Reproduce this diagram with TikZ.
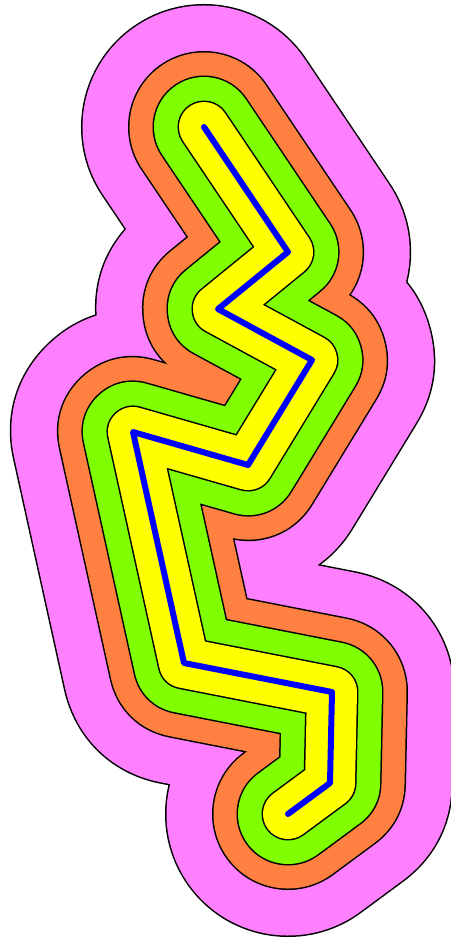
\documentclass[tikz,border=0pt]{standalone}
\definecolor{bufmag}{HTML}{FF80FF}
\definecolor{buforange}{HTML}{FF8040}
\definecolor{bufgreen}{HTML}{80FF00}
\definecolor{bufyellow}{HTML}{FFFF00}
\definecolor{bufblue}{HTML}{0000FF}
\tikzset{
  buf/.style={line join=round, line cap=round},
}
\begin{document}
\begin{tikzpicture}[x=1pt,y=-1pt]
\fill[white] (0,0) rectangle (450,940);
\useasboundingbox (0,0) rectangle (450,940);
\coordinate (p1) at (204,127);
\coordinate (p2) at (288,252);
\coordinate (p3) at (218,309);
\coordinate (p4) at (312,360);
\coordinate (p5) at (248,465);
\coordinate (p6) at (133,432);
\coordinate (p7) at (184,663);
\coordinate (p8) at (332,692);
\coordinate (p9) at (330,783);
\coordinate (p10) at (288,814);
\def\route{(p1) -- (p2) -- (p3) -- (p4) -- (p5) -- (p6) -- (p7) -- (p8) -- (p9) -- (p10)}
\draw[buf, black, line width=246] \route;
\draw[buf, bufmag, line width=243] \route;
\draw[buf, black, line width=152] \route;
\draw[buf, buforange, line width=149] \route;
\draw[buf, black, line width=103] \route;
\draw[buf, bufgreen, line width=100] \route;
\draw[buf, black, line width=53] \route;
\draw[buf, bufyellow, line width=50] \route;
\draw[buf, bufblue, line width=6] \route;
\end{tikzpicture}
\end{document}
